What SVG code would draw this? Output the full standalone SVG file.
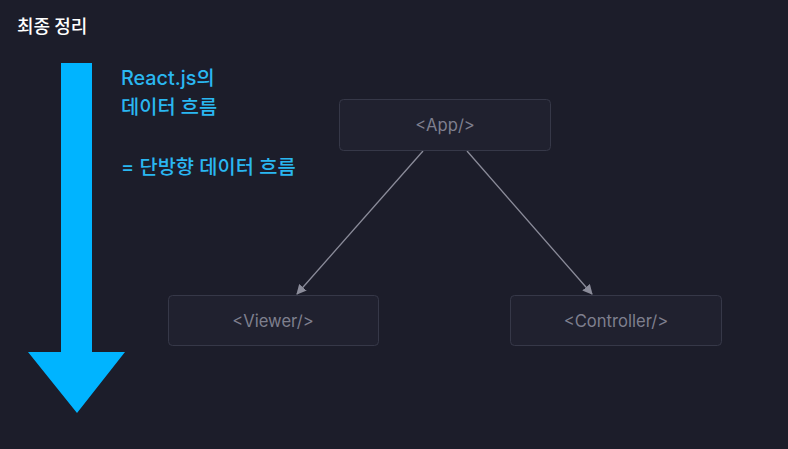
<svg xmlns="http://www.w3.org/2000/svg" width="788" height="449" viewBox="0 0 788 449">
<style>
.node rect{fill:#20212f;stroke:#363848;stroke-width:1}
.node text{font-family:Inter,"Noto Sans","Noto Sans CJK KR",sans-serif;font-size:16.6px;fill:#7e7f8e;text-anchor:middle}
.blue{font-family:Inter,"Noto Sans CJK KR",sans-serif;font-size:19.8px;fill:#2ab7f1;font-weight:500}
.edge{stroke:#8b8c9a;stroke-width:1.3;fill:none}
</style>
<defs>
<marker id="ah" viewBox="0 0 10 10" refX="9" refY="5" markerWidth="10" markerHeight="10" markerUnits="userSpaceOnUse" orient="auto">
<path d="M0,0 L10,5 L0,10 z" fill="#8b8c9a"/>
</marker>
</defs>
<rect width="788" height="449" fill="#1c1d2a"/>
<text x="17" y="33" font-family="'Noto Sans CJK KR',sans-serif" font-size="18" font-weight="500" fill="#ffffff">최종 정리</text>
<g id="flow-arrow">
<path d="M61,63 H92 V352 H125 L77,413 L28,352 H61 Z" fill="#00b4ff"/>
</g>
<g id="label">
<text class="blue" x="121" y="85">React.js의</text>
<text class="blue" x="121" y="114">데이터 흐름</text>
<text class="blue" x="121" y="174">= 단방향 데이터 흐름</text>
</g>
<g id="connectors">
<line class="edge" x1="423" y1="151" x2="297" y2="294" marker-end="url(#ah)"/>
<line class="edge" x1="467" y1="151" x2="592" y2="294" marker-end="url(#ah)"/>
</g>
<g id="app" class="node">
<rect x="339.5" y="99.5" width="211" height="51" rx="4"/>
<text x="445" y="131">&lt;App/&gt;</text>
</g>
<g id="viewer" class="node">
<rect x="168.5" y="295.5" width="210" height="50" rx="4"/>
<text x="273" y="327">&lt;Viewer/&gt;</text>
</g>
<g id="controller" class="node">
<rect x="510.5" y="295.5" width="211" height="50" rx="4"/>
<text x="616" y="327">&lt;Controller/&gt;</text>
</g>
</svg>
